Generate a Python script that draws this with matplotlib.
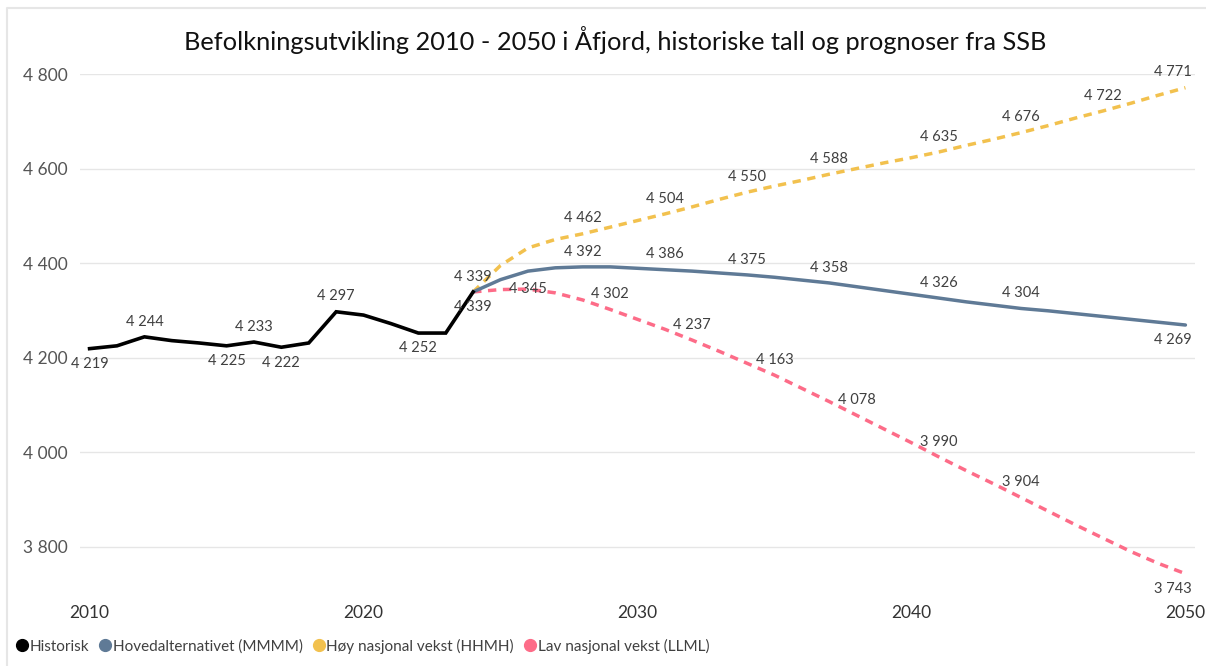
import matplotlib
matplotlib.use("Agg")
import matplotlib.pyplot as plt
from matplotlib.lines import Line2D

plt.rcParams['font.family'] = ['Lato', 'DejaVu Sans']

title = "Befolkningsutvikling 2010 - 2050 i Åfjord, historiske tall og prognoser fra SSB"

hist_years = list(range(2010, 2025))
hist_vals = [4219, 4225, 4244, 4236, 4231, 4225, 4233, 4222, 4231, 4297, 4290, 4272, 4252, 4252, 4339]

proj_years = list(range(2024, 2051))
main_vals = [4339, 4365, 4383, 4390, 4392, 4392, 4389, 4386, 4383, 4379, 4375, 4370, 4364, 4358,
             4350, 4342, 4334, 4326, 4318, 4311, 4304, 4299, 4293, 4287, 4281, 4275, 4269]
high_vals = [4339, 4395, 4432, 4450, 4462, 4476, 4490, 4504, 4519, 4535, 4550, 4563, 4575, 4588,
             4600, 4612, 4623, 4635, 4649, 4662, 4676, 4691, 4707, 4722, 4738, 4755, 4771]
low_vals = [4339, 4344, 4345, 4337, 4322, 4302, 4281, 4260, 4237, 4213, 4188, 4163, 4135, 4107,
            4078, 4049, 4020, 3990, 3961, 3933, 3904, 3875, 3846, 3818, 3790, 3765, 3743]

series_names = ["Historisk", "Hovedalternativet (MMMM)", "Høy nasjonal vekst (HHMH)", "Lav nasjonal vekst (LLML)"]
colors = ["#000000", "#5F7A96", "#F2C14E", "#FD6C88"]

# label years: (year, position) above/below/center
hist_labels = [(2010, 'below'), (2012, 'above'), (2015, 'below'), (2016, 'above'),
               (2017, 'below'), (2019, 'above'), (2022, 'below'), (2024, 'below')]
main_labels = [(2028, 'above'), (2031, 'above'), (2034, 'above'), (2037, 'above'),
               (2041, 'above'), (2044, 'above'), (2050, 'below')]
high_labels = [(2024, 'above'), (2028, 'above'), (2031, 'above'), (2034, 'above'), (2037, 'above'),
               (2041, 'above'), (2044, 'above'), (2047, 'above'), (2050, 'above')]
low_labels = [(2026, 'center'), (2029, 'above'), (2032, 'above'), (2035, 'above'), (2038, 'above'),
              (2041, 'above'), (2044, 'above'), (2050, 'below')]

fig = plt.figure(figsize=(12.06, 6.66), dpi=100)

# faint card border (top and left edges)
fig.add_artist(Line2D([7 / 1206, 7 / 1206, 1.0], [0.0, 1 - 8 / 666, 1 - 8 / 666],
                      transform=fig.transFigure, color='#E6E6E6', lw=1.5))

ax = fig.add_axes([80 / 1206, 72 / 666, 1115 / 1206, 520 / 666])

lw = 2.5
ax.plot(proj_years, high_vals, color=colors[2], lw=lw, linestyle=(0, (2.4, 1.9)), zorder=2)
ax.plot(proj_years, low_vals, color=colors[3], lw=lw, linestyle=(0, (2.4, 1.9)), zorder=2)
ax.plot(proj_years, main_vals, color=colors[1], lw=lw, zorder=3, solid_capstyle='round')
ax.plot(hist_years, hist_vals, color=colors[0], lw=2.6, zorder=4, solid_joinstyle='miter')

ax.set_xlim(2009.65, 2050.35)
ax.set_ylim(3700, 4800)
ax.set_yticks([3800, 4000, 4200, 4400, 4600, 4800])
ax.set_yticklabels([f"{v:,}".replace(",", " ") for v in [3800, 4000, 4200, 4400, 4600, 4800]])
ax.set_xticks([2010, 2020, 2030, 2040, 2050])
ax.grid(axis='y', color='#E6E6E6', lw=1)
ax.set_axisbelow(True)
for s in ax.spines.values():
    s.set_visible(False)
ax.tick_params(axis='both', length=0, labelsize=12.5, colors='#555555')
ax.tick_params(axis='y', pad=9)
ax.tick_params(axis='x', pad=8)
for t in ax.get_xticklabels():
    t.set_color('#333333')

def fmt(v):
    return f"{v:,}".replace(",", " ")

def put_labels(years, vals, labels):
    d = dict(zip(years, vals))
    for yr, pos in labels:
        v = d[yr]
        if pos == 'above':
            off, va = 6, 'bottom'
        elif pos == 'below':
            off, va = -6, 'top'
        else:
            off, va = 0, 'center'
        xo = -9 if yr == 2050 else 0
        ax.annotate(fmt(v), (yr, v), xytext=(xo, off), textcoords='offset points',
                    ha='center', va=va, fontsize=10.5, color='#404040', zorder=6)

put_labels(hist_years, hist_vals, hist_labels)
put_labels(proj_years, main_vals, main_labels)
put_labels(proj_years, high_vals, high_labels)
put_labels(proj_years, low_vals, low_labels)

fig.text(615 / 1206, 1 - 40 / 666, title, ha='center', va='center', fontsize=18.3, color='#111111')

handles = [Line2D([], [], marker='o', ls='', color=c, markersize=8.5) for c in colors]
fig.legend(handles, series_names, loc='center left', bbox_to_anchor=(14 / 1206, 1 - 646 / 666),
           ncol=4, frameon=False, fontsize=11, handletextpad=0.0, columnspacing=0.55,
           labelcolor='#404040', borderaxespad=0, borderpad=0, handlelength=1.0)

fig.savefig("out.png", dpi=100, facecolor='white')
